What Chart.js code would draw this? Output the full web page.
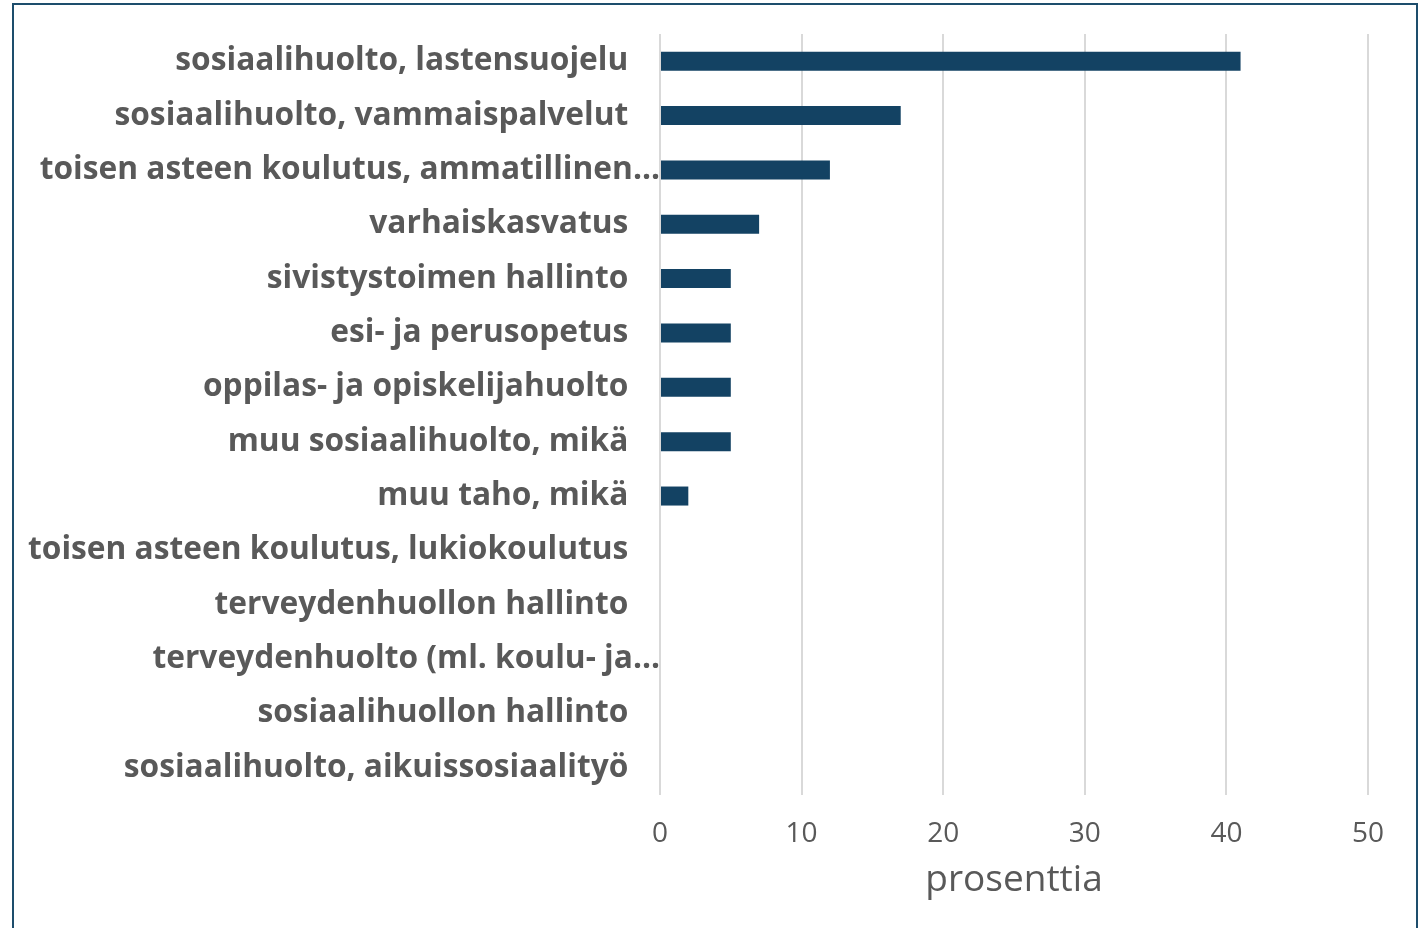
<!DOCTYPE html>
<html>
<head>
<meta charset="utf-8">
<script src="https://cdn.jsdelivr.net/npm/chart.js@4/dist/chart.umd.min.js"></script>
<style>
  html, body { margin: 0; padding: 0; background: #fff; overflow: hidden; }
  #chart { position: absolute; left: 0; top: 0; display: block; }
  #frame {
    position: absolute; left: 12px; top: 3px;
    width: 1406px; height: 925px;
    box-sizing: border-box;
    border: 2px solid #1d4d6c; border-bottom: none;
    pointer-events: none;
  }
</style>
</head>
<body>
<canvas id="chart" width="1426" height="928"></canvas>
<div id="frame"></div>
<script>
// Tehtäväalueet ja osuudet (%)
const categories = [
  'sosiaalihuolto, lastensuojelu',
  'sosiaalihuolto, vammaispalvelut',
  'toisen asteen koulutus, ammatillinen...',
  'varhaiskasvatus',
  'sivistystoimen hallinto',
  'esi- ja perusopetus',
  'oppilas- ja opiskelijahuolto',
  'muu sosiaalihuolto, mikä',
  'muu taho, mikä',
  'toisen asteen koulutus, lukiokoulutus',
  'terveydenhuollon hallinto',
  'terveydenhuolto (ml. koulu- ja...',
  'sosiaalihuollon hallinto',
  'sosiaalihuolto, aikuissosiaalityö',
];
const values = [41, 17, 12, 7, 5, 5, 5, 5, 2, 0, 0, 0, 0, 0];
const axisMin = 0;
const axisMax = 50;
const axisStep = 10;
const axisTitle = 'prosenttia';

const TEXT = '#595959';
const FONT = "'Open Sans', 'Liberation Sans', Arial, sans-serif";

// katkaistut nimet ulottuvat akseliin asti, muut jättävät raon
function yLabel(value) {
  const name = this.getLabelForValue(value);
  return name.endsWith('...') ? name : name + '\u2002\u2002';
}

new Chart(document.getElementById('chart'), {
  type: 'bar',
  data: {
    labels: categories,
    datasets: [{
      data: values,
      backgroundColor: '#134263',
      borderWidth: 0,
      barPercentage: 0.7,
      categoryPercentage: 0.5,
    }],
  },
  options: {
    indexAxis: 'y',
    responsive: false,
    animation: false,
    layout: { padding: { top: 34, right: 58, bottom: 29, left: 0 } },
    plugins: {
      legend: { display: false },
      tooltip: { enabled: false },
    },
    scales: {
      x: {
        min: axisMin,
        max: axisMax,
        ticks: {
          stepSize: axisStep,
          color: TEXT,
          padding: 25,
          font: { family: FONT, size: 28, lineHeight: 1 },
        },
        grid: { color: '#d9d9d9', lineWidth: 2, drawTicks: false },
        border: { display: false },
        title: {
          display: true,
          text: axisTitle,
          color: TEXT,
          padding: { top: -11, bottom: 0 },
          font: { family: FONT, size: 37, lineHeight: 1 },
        },
      },
      y: {
        ticks: {
          color: TEXT,
          padding: 0,
          callback: yLabel,
          font: { family: FONT, size: 31.7, weight: 'bold', lineHeight: 0.35 },
        },
        grid: { display: false, drawTicks: false },
        border: { display: false },
        afterFit: scale => { scale.width = 660; },
      },
    },
  },
});
</script>
</body>
</html>
